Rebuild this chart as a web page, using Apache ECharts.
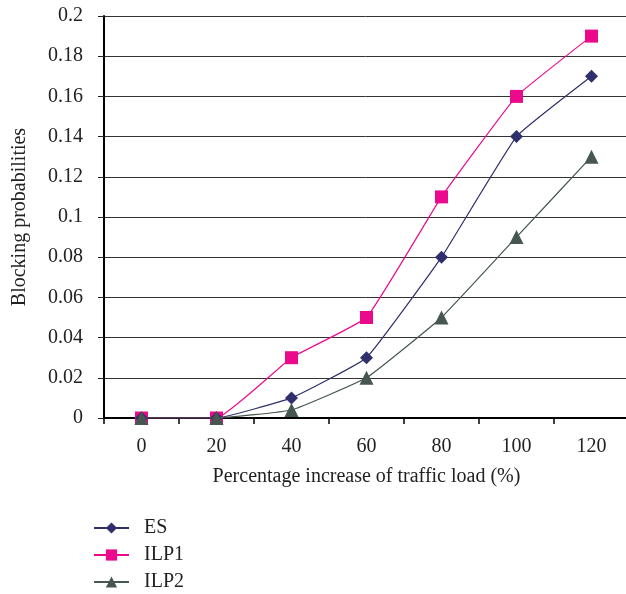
<!DOCTYPE html>
<html><head><meta charset="utf-8">
<script src="https://cdn.jsdelivr.net/npm/echarts@6/dist/echarts.min.js"></script>
<style>html,body{margin:0;padding:0;background:#fff}#c{width:626px;height:594px}</style>
</head><body><div id="c"></div>
<script>
const categories = ['0','20','40','60','80','100','120'];
const esValues   = [0, 0, 0.01, 0.03, 0.08, 0.14, 0.17];
const ilp1Values = [0, 0, 0.03, 0.05, 0.11, 0.16, 0.19];
const ilp2Values = [0, 0, 0.004, 0.02, 0.05, 0.09, 0.13];
const yTicks = [0, 0.02, 0.04, 0.06, 0.08, 0.1, 0.12, 0.14, 0.16, 0.18, 0.2];

const font = 'Liberation Serif';
const fs = 20;
const chart = echarts.init(document.getElementById('c'), null, {renderer:'canvas'});
chart.setOption({
  animation: false,
  backgroundColor: '#fff',
  textStyle: {fontFamily: font},
  grid: {left: 104, top: 16, width: 525, height: 402, containLabel: false, outerBoundsMode: 'none'},
  legend: {
    orient: 'vertical', left: 93, top: 518, padding: 0, itemWidth: 35, itemHeight: 14, itemGap: 7,
    textStyle: {fontFamily: font, fontSize: fs, lineHeight: 20, color: '#222', padding: [0,0,0,10]},
    data: ['ES','ILP1','ILP2']
  },
  xAxis: {
    type: 'category', data: categories, boundaryGap: true,
    name: 'Percentage increase of traffic load (%)', nameLocation: 'middle', nameGap: 49,
    nameTextStyle: {fontFamily: font, fontSize: fs, color: '#222'},
    axisLine: {lineStyle: {color: '#000', width: 2}},
    axisTick: {show: true, length: 6, lineStyle: {color: '#000', width: 1.5}},
    axisLabel: {fontFamily: font, fontSize: fs, color: '#222', margin: 19},
    splitLine: {show: false}
  },
  yAxis: {
    type: 'value', min: 0, max: 0.2, interval: 0.02,
    name: 'Blocking probabilities', nameLocation: 'middle', nameGap: 74, nameRotate: 90,
    nameTextStyle: {fontFamily: font, fontSize: fs, color: '#222'},
    axisLine: {show: true, lineStyle: {color: '#000', width: 2}},
    axisTick: {show: true, length: 6, lineStyle: {color: '#222', width: 1}},
    axisLabel: {fontFamily: font, fontSize: fs, color: '#222', margin: 21,
      formatter: v => { const t = yTicks.find(x => Math.abs(x - v) < 1e-9); return String(+(t ?? v).toFixed(2)); }},
    splitLine: {show: true, lineStyle: {color: '#333', width: 1}}
  },
  series: [
    {name: 'ES', type: 'line', data: esValues, smooth: 0.1, symbol: 'diamond', symbolSize: 13,
     z: 3, lineStyle: {color: '#2f2f6b', width: 1.2}, itemStyle: {color: '#2f2f6b'}},
    {name: 'ILP1', type: 'line', data: ilp1Values, smooth: 0.1, symbol: 'rect', symbolSize: 13,
     z: 2, lineStyle: {color: '#ec0a8c', width: 1.2}, itemStyle: {color: '#ec0a8c'}},
    {name: 'ILP2', type: 'line', data: ilp2Values, smooth: 0.1, symbol: 'triangle', symbolSize: 14,
     z: 4, lineStyle: {color: '#46574f', width: 1.2}, itemStyle: {color: '#46574f'}}
  ]
});
</script></body></html>
